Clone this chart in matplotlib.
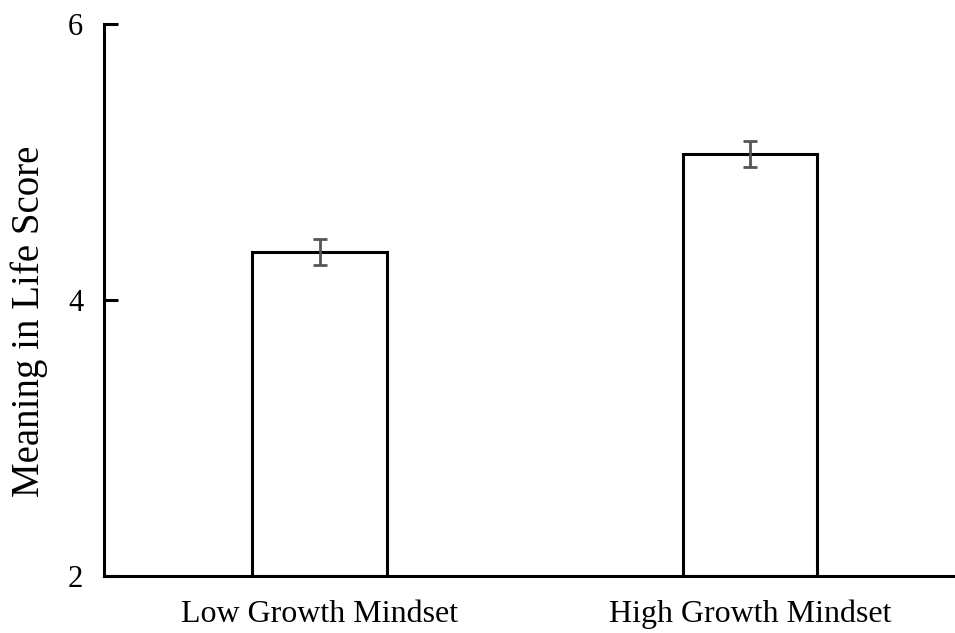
import matplotlib.pyplot as plt
import numpy as np

plt.rcParams['font.family'] = ['Liberation Serif', 'DejaVu Serif']

# 数据
categories = ['Low Growth Mindset', 'High Growth Mindset']
means = [4.35, 5.06]
errors = [0.094, 0.094]
y_ticks = [2, 4, 6]

fig = plt.figure(figsize=(9.55, 6.33), dpi=100)
ax = fig.add_axes([104 / 955, 1 - 576 / 633, (955 - 104) / 955, (576 - 24) / 633])

x = np.arange(len(categories))
ax.bar(x, [m - 2 for m in means], bottom=2, width=0.313,
       color='white', edgecolor='black', linewidth=2.2)
ax.errorbar(x, means, yerr=errors, fmt='none', ecolor='#555555',
            elinewidth=2, capsize=4.8, capthick=2)

ax.set_xlim(-0.501, 1.476)
ax.set_ylim(2, 6)
ax.set_yticks(y_ticks)
ax.set_xticks(x)
ax.set_xticklabels(categories, fontsize=23)
ax.tick_params(axis='y', direction='in', length=10, width=2.2,
               labelsize=22, pad=15)
ax.tick_params(axis='x', length=0, pad=17)

for side in ['top', 'right']:
    ax.spines[side].set_visible(False)
ax.spines['left'].set_linewidth(2.2)
ax.spines['bottom'].set_linewidth(2.2)

ax.set_ylabel('Meaning in Life Score', fontsize=28)
ax.yaxis.set_label_coords(-0.066, 0.462)

plt.savefig('out.png', dpi=100)
